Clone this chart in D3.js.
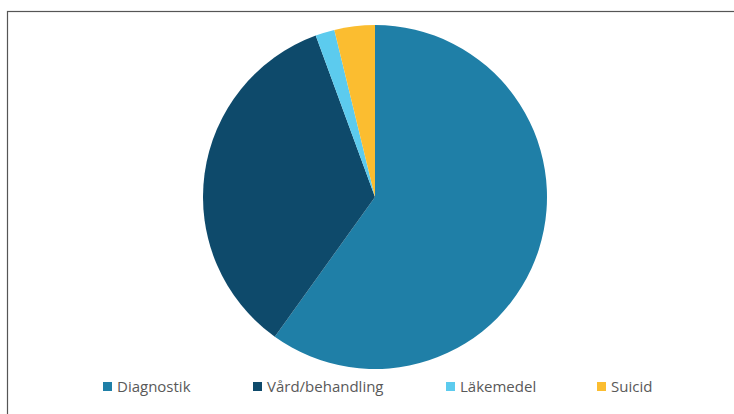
<!DOCTYPE html>
<html>
<head>
<meta charset="utf-8">
<script src="https://cdn.jsdelivr.net/npm/d3@7"></script>
<style>
  html, body { margin: 0; padding: 0; background: #fff; }
  svg { display: block; }
</style>
</head>
<body>
<svg id="chart" width="734" height="414"></svg>
<script>
// Share of cases by category (percent)
const categories = ["Diagnostik", "Vård/behandling", "Läkemedel", "Suicid"];
const shares = [59.9, 34.5, 1.8, 3.8];
const colors = ["#1f7fa7", "#0e4a6b", "#5ccbee", "#fbbd30"];
const legendLeft = [103, 253, 446, 597];

const svg = d3.select("#chart");

// chart frame
svg.append("rect")
  .attr("x", 7.5).attr("y", 11.5)
  .attr("width", 740).attr("height", 420)
  .attr("fill", "#fff")
  .attr("stroke", "#555").attr("stroke-width", 1.2);

const cx = 375, cy = 197, r = 172;

const data = categories.map((c, i) => ({ category: c, value: shares[i] }));
const pie = d3.pie().value(d => d.value).sort(null);
const arc = d3.arc().innerRadius(0).outerRadius(r);
const color = d3.scaleOrdinal().domain(categories).range(colors);

svg.append("g")
  .attr("transform", `translate(${cx},${cy})`)
  .selectAll("path")
  .data(pie(data))
  .join("path")
  .attr("d", arc)
  .attr("fill", d => color(d.data.category));

// legend
const lg = svg.append("g").selectAll("g")
  .data(categories)
  .join("g")
  .attr("transform", (d, i) => `translate(${legendLeft[i]},382)`);

lg.append("rect")
  .attr("width", 9).attr("height", 9)
  .attr("fill", d => color(d));

lg.append("text")
  .attr("x", 14).attr("y", 9.5)
  .attr("font-family", "'Open Sans', sans-serif")
  .attr("font-size", 15)
  .attr("fill", "#595959")
  .text(d => d);
</script>
</body>
</html>
